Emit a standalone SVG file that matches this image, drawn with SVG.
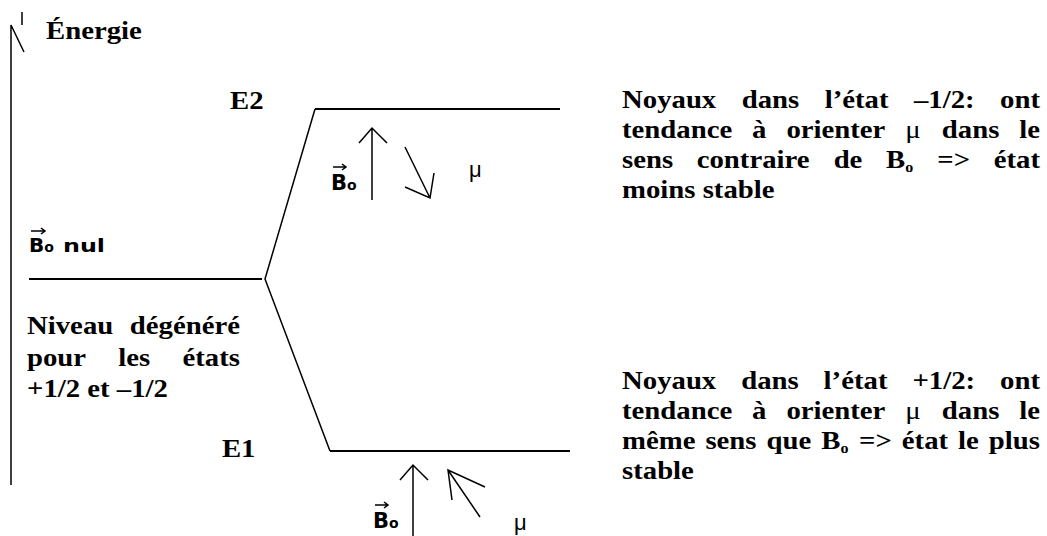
<svg xmlns="http://www.w3.org/2000/svg" width="1047" height="536" viewBox="0 0 1047 536">
<style>
.t{font-family:"Liberation Serif","Times New Roman",serif;font-weight:bold;font-size:25px;fill:#000}
.m{font-weight:normal}
.sub{font-size:14px}
.s{font-family:"DejaVu Sans",sans-serif;font-weight:bold;fill:#000}
.mu{font-family:"Liberation Sans",Arial,sans-serif;font-size:22px;fill:#000}
.ln{stroke:#000;stroke-width:2;fill:none}
.th{stroke:#000;stroke-width:1.5;fill:none}
</style>
<rect width="1047" height="536" fill="#fff"/>
<g id="axis">
<path class="th" d="M11,485 V25 L24,52 M22,12 V25"/>
</g>
<g id="connectors">
<path class="ln" d="M29,279 H262"/>
<path class="th" d="M315,109 L265,279 L330,451"/>
<path class="ln" d="M315,109 H560"/>
<path class="ln" d="M330,451 H570"/>
</g>
<g transform="scale(1.15,1)">
<g id="energie"><text class="t" x="40" y="39">Énergie</text></g>
<g id="E2"><text class="t" x="200" y="109">E2</text></g>
<g id="E1"><text class="t" x="193" y="457">E1</text></g>
<g id="degenere">
<text class="t" y="334"><tspan x="23.48">Niveau</tspan><tspan x="112.9">dégénéré</tspan></text>
<text class="t" y="366"><tspan x="23.48">pour</tspan><tspan x="102.91">les</tspan><tspan x="158.72">états</tspan></text>
<text class="t" x="23.48" y="397">+1/2 et –1/2</text>
</g>
<g id="note-top">
<text class="t" y="108"><tspan x="540.87">Noyaux</tspan><tspan x="644.94">dans</tspan><tspan x="717.09">l’état</tspan><tspan x="794.73">–1/2:</tspan><tspan x="869.63">ont</tspan></text>
<text class="t" y="138"><tspan x="540.87">tendance</tspan><tspan x="654.02">à</tspan><tspan x="683.83">orienter</tspan><tspan x="787.23" class="m">μ</tspan><tspan x="818.96">dans</tspan><tspan x="886.3">le</tspan></text>
<text class="t"><tspan x="540.87" y="168">sens</tspan><tspan x="605.83" y="168">contraire</tspan><tspan x="724.9" y="168">de</tspan><tspan x="770.41" y="168">B</tspan><tspan class="sub" y="172">o</tspan><tspan x="815.09" y="168">=&gt;</tspan><tspan x="864.1" y="168">état</tspan></text>
<text class="t" x="540.87" y="198">moins stable</text>
</g>
<g id="note-bottom">
<text class="t" y="389"><tspan x="540.87">Noyaux</tspan><tspan x="644.5">dans</tspan><tspan x="716.2">l’état</tspan><tspan x="793.4">+1/2:</tspan><tspan x="869.6">ont</tspan></text>
<text class="t" y="419"><tspan x="540.87">tendance</tspan><tspan x="654.02">à</tspan><tspan x="683.83">orienter</tspan><tspan x="787.23" class="m">μ</tspan><tspan x="818.96">dans</tspan><tspan x="886.3">le</tspan></text>
<text class="t"><tspan x="540.87" y="449">même</tspan><tspan x="613.41" y="449">sens</tspan><tspan x="666.55" y="449">que</tspan><tspan x="714.14" y="449">B</tspan><tspan class="sub" y="453">o</tspan><tspan x="747" y="449">=&gt;</tspan><tspan x="784.19" y="449">état</tspan><tspan x="833.13" y="449">le</tspan><tspan x="859.87" y="449">plus</tspan></text>
<text class="t" x="540.87" y="479">stable</text>
</g>
</g>
<g id="B0nul">
<path class="th" d="M31,231 H45 M41,228 L45,231 L41,234"/>
<text class="s" x="29" y="252" font-size="20">B<tspan font-size="14">o</tspan></text>
<text class="s" x="63" y="252" font-size="18" textLength="42" lengthAdjust="spacingAndGlyphs">nul</text>
</g>
<g id="upper-arrows">
<path class="th" d="M372,200 V128 M359,143 L372,128 L387,143"/>
<path class="th" d="M405,147 L430,198 M405,187 L430,198 L434,173"/>
<path class="th" d="M333,167 H346 M342,164 L346,167 L342,170"/>
<text class="s" x="331" y="190" font-size="21">B<tspan font-size="14">o</tspan></text>
<text class="mu" x="469" y="177">μ</text>
</g>
<g id="lower-arrows">
<path class="th" d="M413,536 V465 M400,480 L413,465 L428,480"/>
<path class="th" d="M480,517 L448,470 M452,500 L448,470 L485,487"/>
<path class="th" d="M375,505 H388 M384,502 L388,505 L384,508"/>
<text class="s" x="373" y="528" font-size="21">B<tspan font-size="14">o</tspan></text>
<text class="mu" x="514" y="530">μ</text>
</g>
</svg>
